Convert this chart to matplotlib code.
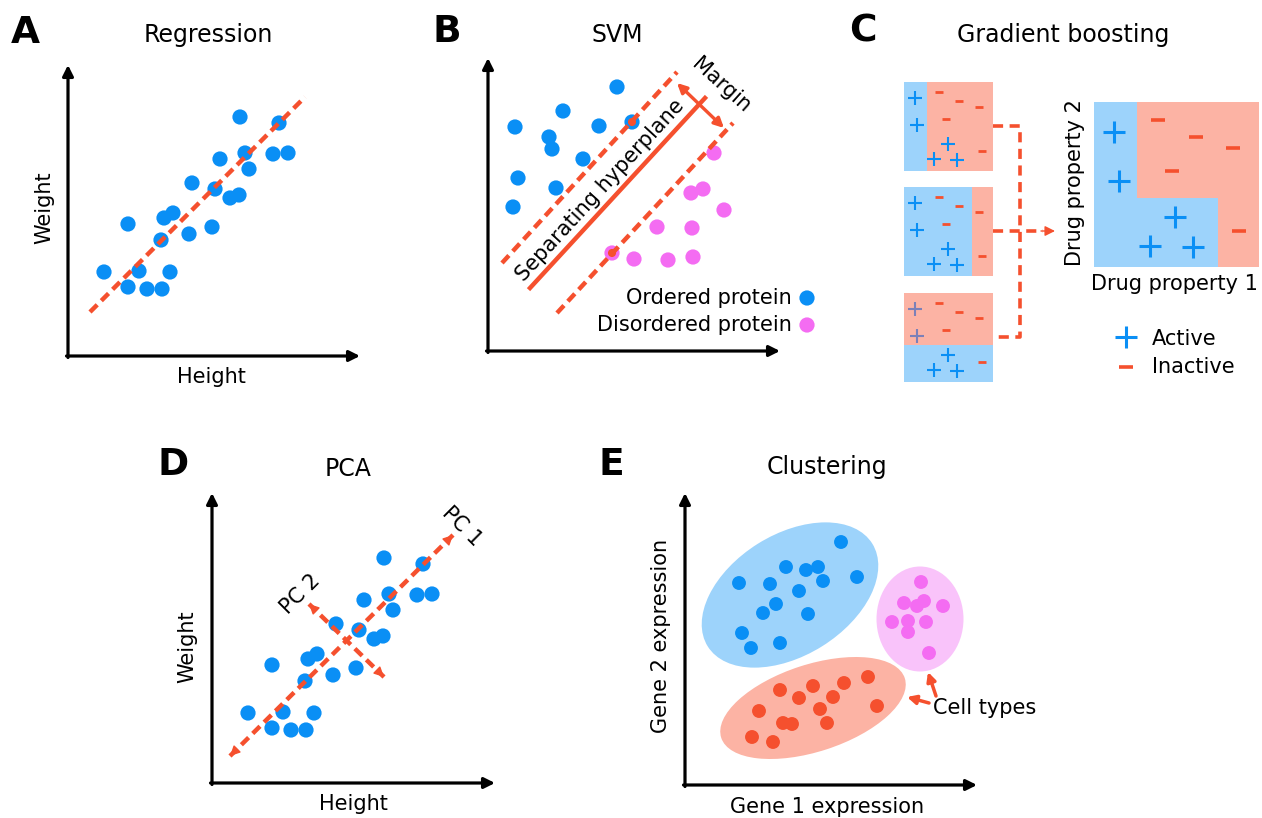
import numpy as np
import matplotlib.pyplot as plt
from matplotlib.patches import Ellipse, Rectangle

W, H = 1262, 818
BLUE = '#0a8ff5'
RED = '#f5502e'
PINK = '#f46cf2'
LBLUE = '#9dd3fb'
LRED = '#fcb3a4'
LPINK = '#f9c3fa'

# ---- data ----
# A / D : height vs weight, same sample in both panels
height = [36, 60, 60, 71, 79, 94, 102, 93, 96, 105, 121, 124, 144, 147, 152,
          162, 171, 172, 177, 181, 205, 211, 220]
weight = [84, 132, 69, 85, 67, 67, 84, 116, 138, 143, 122, 173, 129, 167, 197,
          158, 161, 239, 203, 187, 202, 233, 203]
fit_x = [22, 237]
fit_y = [44, 259]
pc1_x = [18, 241]
pc1_y = [41, 262]
pc2_x = [97, 172]
pc2_y = [193, 120]

# B : SVM
ordered_x = [129, 75, 27, 111, 144, 61, 64, 95, 30, 68, 25]
ordered_y = [264, 240, 224, 225, 229, 214, 202, 192, 173, 163, 144]
disordered_x = [226, 215, 203, 236, 169, 204, 124, 146, 180, 205]
disordered_y = [198, 162, 158, 141, 124, 123, 98, 92, 91, 94]
support_x = [144, 124]
support_y = [229, 98]
hyperplane_x = [42, 217]
hyperplane_y = [63, 253]
margin_upper_x = [14, 189]
margin_upper_y = [88, 279]
margin_lower_x = [69, 245]
margin_lower_y = [38, 228]

# C : gradient boosting, points in unit box coordinates
active_x = [0.12, 0.15, 0.49, 0.34, 0.60]
active_y = [0.82, 0.52, 0.30, 0.13, 0.12]
inactive_x = [0.39, 0.62, 0.84, 0.47, 0.88]
inactive_y = [0.89, 0.79, 0.72, 0.58, 0.22]
# regions predicted "active" by each weak learner and by the ensemble
stump_active = [[(0, 0, 0.26, 1)], [(0, 0, 0.76, 1)], [(0, 0, 1, 0.42)]]
final_active = [(0, 0, 0.26, 1), (0, 0, 0.75, 0.42)]

# E : clustering
c1_x = [156, 101, 121, 133, 138, 172, 54, 85, 114, 91, 78, 123, 57, 66, 95]
c1_y = [243, 218, 215, 218, 204, 208, 202, 201, 194, 181, 172, 171, 152, 137, 142]
c2_x = [236, 219, 232, 239, 258, 207, 223, 241, 223, 244]
c2_y = [203, 182, 179, 184, 179, 163, 164, 163, 153, 132]
c3_x = [183, 159, 128, 95, 114, 148, 192, 135, 74, 98, 107, 142, 67, 88]
c3_y = [108, 102, 99, 95, 87, 88, 79, 76, 74, 62, 61, 62, 48, 43]
# cluster outlines: centre x, centre y, width, height, angle
hulls = [(105, 190, 194, 121, 32, LBLUE),
         (235, 166, 87, 105, 0, LPINK),
         (128, 77, 193, 87, 18, LRED)]

fig = plt.figure(figsize=(W / 100, H / 100), dpi=100)
plt.rcParams['font.family'] = ['DejaVu Sans']

canvas = fig.add_axes([0, 0, 1, 1])
canvas.set_xlim(0, W)
canvas.set_ylim(H, 0)
canvas.axis('off')


def px_axes(left, top, width, height, ox, oy):
    # axes where one data unit is one pixel, data origin at pixel (ox, oy)
    ax = fig.add_axes([left / W, 1 - (top + height) / H, width / W, height / H])
    ax.set_xlim(left - ox, left + width - ox)
    ax.set_ylim(oy - top - height, oy - top)
    ax.axis('off')
    return ax


def unit_axes(left, top, size):
    ax = fig.add_axes([left / W, 1 - (top + size) / H, size / W, size / H])
    ax.set_xlim(0, 1)
    ax.set_ylim(0, 1)
    ax.axis('off')
    return ax


def axis_arrows(ax, x0, y0, xlen, ylen):
    kw = dict(arrowstyle='-|>', color='black', lw=2.3, mutation_scale=16,
              shrinkA=0, shrinkB=0)
    ax.annotate('', xy=(x0 + xlen, y0), xytext=(x0 - 1.5, y0), arrowprops=kw,
                annotation_clip=False)
    ax.annotate('', xy=(x0, y0 + ylen), xytext=(x0, y0 - 1.5), arrowprops=kw,
                annotation_clip=False)


def head(ax, tip, tail, size=15):
    d = np.array(tip, float) - np.array(tail, float)
    d /= np.hypot(*d)
    ax.annotate('', xy=tip, xytext=tuple(np.array(tip) - 9 * d),
                arrowprops=dict(arrowstyle='-|>', color=RED, lw=1,
                                mutation_scale=size, shrinkA=0, shrinkB=0),
                annotation_clip=False)


def dashed(ax, x, y):
    ax.plot(x, y, color=RED, lw=3.2, dashes=(2.3, 1.3), clip_on=False, zorder=4)


def txt(x, y, s, **kw):
    kw.setdefault('fontsize', 15)
    kw.setdefault('ha', 'center')
    kw.setdefault('va', 'center')
    canvas.text(x, y, s, **kw)


# panel letters and titles
for letter, x, y in [('A', 25, 43), ('B', 447, 42), ('C', 863, 42),
                     ('D', 173, 475), ('E', 611, 475)]:
    txt(x, y, letter, fontsize=27, fontweight='bold', va='baseline')
for title, x, y in [('Regression', 208, 42), ('SVM', 617, 42),
                    ('Gradient boosting', 1063, 42), ('PCA', 348, 476),
                    ('Clustering', 827, 474)]:
    txt(x, y, title, fontsize=17, va='baseline')

# ---- A : regression ----
axA = px_axes(20, 50, 360, 330, 68, 356)
axis_arrows(axA, 0, 0, 292, 291)
axA.scatter(height, weight, s=120, c=BLUE, edgecolors='none', zorder=3, clip_on=False)
dashed(axA, fit_x, fit_y)
txt(211, 377, 'Height')
txt(44, 208, 'Weight', rotation=90)

# ---- B : SVM ----
axB = px_axes(430, 50, 400, 320, 488, 351)
axis_arrows(axB, 0, 0, 292, 293)
axB.scatter(ordered_x, ordered_y, s=120, c=BLUE, edgecolors='none', clip_on=False)
axB.scatter(disordered_x, disordered_y, s=120, c=PINK, edgecolors='none', clip_on=False)
dashed(axB, margin_upper_x, margin_upper_y)
dashed(axB, margin_lower_x, margin_lower_y)
axB.plot(hyperplane_x, hyperplane_y, color=RED, lw=3.2, clip_on=False)
axB.scatter(support_x, support_y, s=34, c=RED, edgecolors='none', zorder=5, clip_on=False)
axB.annotate('', xy=(236, 223), xytext=(189, 268),
             arrowprops=dict(arrowstyle='<|-|>', color=RED, lw=2.4,
                             mutation_scale=14, shrinkA=0, shrinkB=0),
             annotation_clip=False)
axB.scatter([319, 319], [53, 26], s=120, c=[BLUE, PINK], edgecolors='none', clip_on=False)
txt(600, 190, 'Separating hyperplane', rotation=47.5, rotation_mode='anchor')
txt(721, 85, 'Margin', rotation=-42, rotation_mode='anchor')
txt(792, 304, 'Ordered protein', ha='right', va='baseline')
txt(792, 331, 'Disordered protein', ha='right', va='baseline')

# ---- C : gradient boosting ----
for i, (top, regions) in enumerate(zip([82, 187, 293], stump_active)):
    ax = unit_axes(904, top, 89)
    ax.add_patch(Rectangle((0, 0), 1, 1, fc=LRED, ec='none'))
    for r in regions:
        ax.add_patch(Rectangle(r[:2], r[2], r[3], fc=LBLUE, ec='none'))
    cols = [BLUE] * len(active_x)
    if i == 2:
        cols = ['#7c80b8' if yy > 0.42 else BLUE for yy in active_y]
    for xx, yy, cc in zip(active_x, active_y, cols):
        ax.plot(xx, yy, marker='+', ms=9.5, mew=1.5, color=cc, clip_on=False)
    ax.plot(inactive_x, inactive_y, ls='none', marker='_', ms=5.5, mew=2, color=RED)

axF = unit_axes(1094, 102, 165)
axF.add_patch(Rectangle((0, 0), 1, 1, fc=LRED, ec='none'))
for r in final_active:
    axF.add_patch(Rectangle(r[:2], r[2], r[3], fc=LBLUE, ec='none'))
axF.plot(active_x, active_y, ls='none', marker='+', ms=16, mew=2.2, color=BLUE)
axF.plot(inactive_x, inactive_y, ls='none', marker='_', ms=10, mew=2.6, color=RED)

canvas.plot([993, 1020, 1020, 993], [126, 126, 337, 337], color=RED, lw=2.6,
            dashes=(2.8, 1.8))
canvas.plot([993, 1043], [231, 231], color=RED, lw=2.6, dashes=(2.8, 1.8))
canvas.annotate('', xy=(1055, 231), xytext=(1041, 231),
                arrowprops=dict(arrowstyle='-|>', color=RED, lw=1,
                                mutation_scale=15, shrinkA=0, shrinkB=0))
txt(1075, 183, 'Drug property 2', rotation=90)
txt(1174, 284, 'Drug property 1')
canvas.plot(1126, 337, marker='+', ms=16, mew=2.2, color=BLUE)
canvas.plot(1126, 367, marker='_', ms=10, mew=2.6, color=RED)
txt(1152, 345, 'Active', ha='left', va='baseline')
txt(1152, 373, 'Inactive', ha='left', va='baseline')

# ---- D : PCA ----
axD = px_axes(170, 480, 340, 330, 212, 797)
axis_arrows(axD, 0, 14, 283, 290)
axD.scatter(height, weight, s=120, c=BLUE, edgecolors='none', zorder=2, clip_on=False)
dashed(axD, pc1_x, pc1_y)
dashed(axD, pc2_x, pc2_y)
for px, py in [(pc1_x, pc1_y), (pc2_x, pc2_y)]:
    head(axD, (px[1], py[1]), (px[0], py[0]))
    head(axD, (px[0], py[0]), (px[1], py[1]))
txt(462, 526, 'PC 1', rotation=-45, rotation_mode='anchor')
txt(300, 594, 'PC 2', rotation=45, rotation_mode='anchor')
txt(353, 804, 'Height')
txt(187, 647, 'Weight', rotation=90)

# ---- E : clustering ----
axE = px_axes(650, 480, 340, 320, 685, 785)
axis_arrows(axE, 0, 0, 292, 292)
for cx, cy, w, h, ang, col in hulls:
    axE.add_patch(Ellipse((cx, cy), w, h, angle=ang, fc=col, ec='none'))
axE.scatter(c1_x, c1_y, s=100, c=BLUE, edgecolors='none', clip_on=False)
axE.scatter(c2_x, c2_y, s=100, c=PINK, edgecolors='none', clip_on=False)
axE.scatter(c3_x, c3_y, s=100, c=RED, edgecolors='none', clip_on=False)
for tip, tail in [((222, 88), (244, 82)), ((243, 113), (251, 89))]:
    axE.annotate('', xy=tip, xytext=tail,
                 arrowprops=dict(arrowstyle='-|>', color=RED, lw=2.5,
                                 mutation_scale=13, shrinkA=0, shrinkB=0),
                 annotation_clip=False)
txt(933, 714, 'Cell types', ha='left', va='baseline')
txt(827, 807, 'Gene 1 expression')
txt(661, 636, 'Gene 2 expression', rotation=90)

fig.savefig('out.png', dpi=100)
